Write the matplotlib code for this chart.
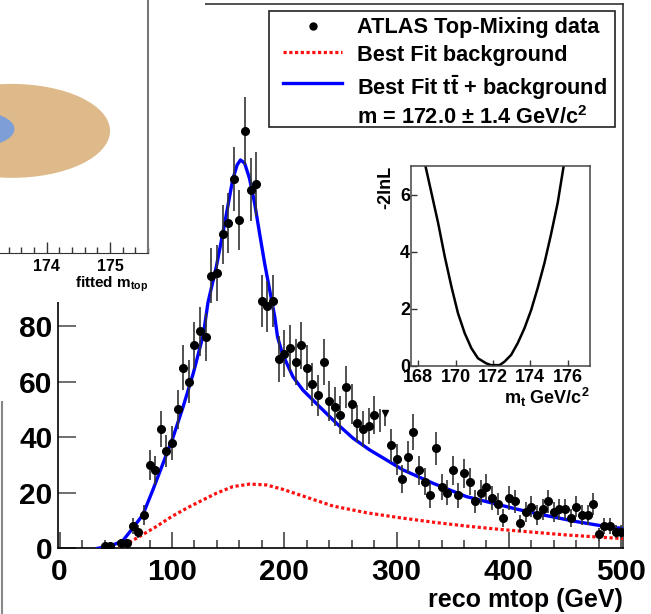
import matplotlib
matplotlib.use("Agg")
import matplotlib.pyplot as plt
import numpy as np
from matplotlib.patches import Rectangle, Ellipse
from matplotlib.lines import Line2D
from matplotlib.ticker import MultipleLocator, FixedLocator

plt.rcParams['font.family'] = ['Liberation Sans', 'DejaVu Sans']
plt.rcParams['font.weight'] = 'bold'
plt.rcParams['mathtext.fontset'] = 'custom'
plt.rcParams['mathtext.rm'] = 'Liberation Sans:bold'
plt.rcParams['mathtext.bf'] = 'Liberation Sans:bold'
plt.rcParams['mathtext.it'] = 'Liberation Sans:bold'

# ---- data ----
mass_bins = [40, 45, 55, 60, 65, 70, 75, 80, 85, 90, 95, 100, 105, 110, 115, 120, 125, 130,
             135, 140, 145, 150, 155, 160, 165, 170, 175, 180, 185, 190, 195, 200, 205, 210,
             215, 220, 225, 230, 235, 240, 245, 250, 255, 260, 265, 270, 275, 280,
             295, 300, 305, 310, 315, 320, 325, 330, 335, 340, 345, 350, 355, 360, 365, 370,
             375, 380, 385, 390, 395, 400, 405, 410, 415, 420, 425, 430, 435, 440, 445, 450,
             455, 460, 465, 470, 475, 480, 485, 490, 495, 500]
counts = [1, 1, 2, 2, 8, 6, 12, 30, 28, 43, 35, 38, 50, 65, 60, 73, 78, 76,
          98, 99, 113, 117, 133, 118, 150, 129, 131, 89, 87, 89, 68, 70, 72, 67,
          73, 65, 59, 55, 67, 53, 51, 48, 58, 52, 45, 43, 44, 48,
          37, 32, 25, 33, 42, 28, 24, 19, 36, 22, 20, 28, 19, 27, 24, 17,
          20, 22, 18, 16, 11, 18, 17, 9, 13, 15, 12, 14, 17, 13, 14, 14,
          11, 15, 12, 12, 16, 5, 8, 8, 6, 6]
# two bins drawn oddly in the original (bar only / triangle)
odd_bins = [285, 290]
odd_counts = [46, 48.5]

fit_x = [34, 45, 56, 65, 74, 83, 92, 101, 110, 119, 128, 132, 139.5, 147, 154, 158, 161,
         164.7, 169, 173.6, 178, 182.5, 187, 191.5, 194, 197.4, 200, 207.7, 216.6, 231.5,
         246.4, 261.2, 276, 290.9, 305.7, 332.4, 362.1, 391.8, 410, 430.4, 460.1, 483.8, 502]
fit_y = [0, 0.8, 2.6, 7.2, 12, 21, 30.5, 40, 51, 63, 77, 88.3, 101.3, 117, 132.5, 137.9, 139.7,
         138.5, 133.1, 124.1, 113.3, 102.5, 92.9, 83.3, 76, 71.3, 68.5, 61.7, 56.9, 50.9,
         45, 39.6, 35.4, 31.8, 28.2, 23.4, 18.6, 15.6, 13.8, 12, 9.6, 8, 7.1]

bkg_x = [53, 70, 86, 100, 115.8, 124.6, 139.5, 154.3, 169.2, 184, 198.8, 213.7, 243.4, 273.1,
         302.8, 332.4, 362.1, 391.8, 421.5, 451.2, 480.9, 502]
bkg_y = [0, 4, 7.8, 11.5, 15, 16.8, 19.8, 22.2, 23.1, 22.8, 21.2, 19.2, 15.2, 12.8,
         11, 9.4, 8, 6.8, 5.8, 4.8, 4, 3.5]

nll_mass = [168.39, 168.71, 169.07, 169.42, 169.78, 170.13, 170.49, 170.85, 171.2, 171.65,
            171.91, 172.36, 172.62, 172.98, 173.33, 173.69, 174.05, 174.4, 174.76, 175.11,
            175.47, 175.79]
nll_val = [7.0, 6.06, 5.0, 3.84, 2.78, 1.85, 1.15, 0.62, 0.27, 0.09,
           0.03, 0.03, 0.15, 0.39, 0.8, 1.32, 1.96, 2.73, 3.6, 4.6,
           5.71, 7.0]

# contour panel (partly visible): (centre m, centre y, width, height)
outer_contour = (173.45, 4.03, 3.1, 3.1)
inner_contour = (172.89, 4.09, 1.2, 1.16)
contour_ticks = [174, 175]

W, H = 651, 614
fig = plt.figure(figsize=(W / 100, H / 100), dpi=100)


def fx(px):
    return px / W


def fy(py):
    return 1 - py / H


# ---- main histogram ----
ax = fig.add_axes([fx(58.3), fy(548.3), (622.7 - 58.3) / W, (548.3 - 4) / H])
ax.errorbar(mass_bins, counts, yerr=np.sqrt(counts), fmt='o', color='black', ms=5.5,
            ecolor='#333333', elinewidth=1.2, capsize=0, zorder=4)
ax.errorbar(odd_bins[0], odd_counts[0], yerr=4, fmt='none', ecolor='#333333', elinewidth=1.2)
ax.errorbar(odd_bins[1], odd_counts[1] - 2, yerr=2.5, fmt='none', ecolor='#333333', elinewidth=1.2)
ax.plot(odd_bins[1], odd_counts[1], marker='v', color='black', ms=5, ls='none')
ax.plot(bkg_x, bkg_y, color='#ff1010', lw=2.3, ls=(0, (1.0, 0.8)), zorder=3)
ax.plot(fit_x, fit_y, color='#0000ff', lw=2.4, zorder=3)
ax.set_xlim(-1.2, 501.3)
ax.set_ylim(0, 195.8)
ax.set_xticks([0, 100, 200, 300, 400, 500])
ax.xaxis.set_minor_locator(MultipleLocator(20))
# upper y ticks are hidden under the overlapping contour panel
ax.set_yticks([0, 20, 40, 60, 80])
ax.tick_params(axis='x', which='major', direction='in', length=11.5, width=1.2,
               color='#444444', labelsize=21.5, pad=7)
ax.tick_params(axis='x', which='minor', direction='in', length=5.8, width=1.2, color='#444444')
ax.tick_params(axis='y', which='major', direction='in', length=13, width=1.2,
               color='#555555', labelsize=21.5, pad=4)
ax.tick_params(top=False, right=False)
for s in ax.spines.values():
    s.set_linewidth(1.2)
ax.spines['top'].set_color('#333333')
ax.spines['right'].set_color('#333333')
ax.text(1.0, -0.095, 'reco mtop (GeV)', transform=ax.transAxes, ha='right', va='center',
        fontsize=18, fontweight='bold')

# legend box
fig.patches.append(Rectangle((fx(269.3), fy(126.7)), (615.3 - 269.3) / W, (126.7 - 10.7) / H,
                             transform=fig.transFigure, facecolor='white', edgecolor='#222222',
                             lw=1.2, zorder=5))
fig.lines.append(Line2D([fx(313)], [fy(25.7)], marker='o', color='black', ms=5,
                        transform=fig.transFigure, zorder=6))
fig.lines.append(Line2D([fx(283), fx(342)], [fy(52)] * 2, color='#ff1010', lw=2.3,
                        ls=(0, (1.0, 0.8)), transform=fig.transFigure, zorder=6))
fig.lines.append(Line2D([fx(283), fx(342)], [fy(83)] * 2, color='#0000ff', lw=2.4,
                        transform=fig.transFigure, zorder=6))
legend_rows = ['ATLAS Top-Mixing data', 'Best Fit background',
               r'Best Fit t$\bar{\mathrm{t}}$ + background',
               r'm = 172.0 $\pm$ 1.4 GeV/c$^{2}$']
for row, base in zip(legend_rows, [33.3, 60.7, 95, 124]):
    fig.text(fx(356.7), fy(base), row, fontsize=15.7, fontweight='bold', va='baseline',
             ha='left', zorder=6)

# white cover left by the overlapping contour panel
fig.patches.append(Rectangle((0, fy(302)), 205 / W, 302 / H, transform=fig.transFigure,
                             facecolor='white', edgecolor='none', zorder=1))
fig.lines.append(Line2D([fx(1.5)] * 2, [0, fy(402)], color='#888888', lw=1.5,
                        transform=fig.transFigure, zorder=1))

# ---- contour panel (cut by image edge) ----
cax = fig.add_axes([fx(-48.2), fy(253), (148 + 48.2) / W, 303 / H])
cax.set_zorder(2)
cax.add_patch(Ellipse(outer_contour[:2], outer_contour[2], outer_contour[3],
                      facecolor='#deba8a', edgecolor='none'))
cax.add_patch(Ellipse(inner_contour[:2], inner_contour[2], inner_contour[3],
                      facecolor='#7d9ed7', edgecolor='none'))
cax.set_xlim(172.5, 175.6)
cax.set_ylim(0, 10)
cax.xaxis.set_major_locator(FixedLocator(contour_ticks))
cax.xaxis.set_minor_locator(MultipleLocator(0.2))
cax.set_yticks([])
cax.tick_params(axis='x', which='major', direction='in', length=8, width=1, color='#333333',
                labelsize=11.5, pad=4)
cax.tick_params(axis='x', which='minor', direction='in', length=4, width=1, color='#333333')
cax.spines['right'].set_color('#777777')
cax.spines['right'].set_linewidth(1.5)
cax.spines['bottom'].set_color('#333333')
fig.text(fx(148), fy(284), r'fitted m$_\mathrm{top}$', ha='right', va='center',
         fontsize=11, fontweight='bold', zorder=3)

# ---- likelihood inset ----
iax = fig.add_axes([fx(410.7), fy(366), 179.3 / W, 200 / H])
iax.set_zorder(3)
iax.plot(nll_mass, nll_val, color='black', lw=1.8)
iax.set_xlim(167.6, 177.2)
iax.set_ylim(0, 7)
iax.set_xticks([168, 170, 172, 174, 176])
iax.set_yticks([0, 2, 4, 6])
iax.tick_params(axis='both', direction='in', length=4.5, width=1, color='#333333',
                labelsize=13)
iax.tick_params(axis='x', pad=2)
iax.tick_params(axis='y', pad=0.5)
for s in iax.spines.values():
    s.set_color('#444444')
    s.set_linewidth(1.1)
iax.text(-0.14, 1.0, '-2lnL', transform=iax.transAxes, rotation=90, ha='center', va='top',
         fontsize=13, fontweight='bold')
iax.text(1.0, -0.155, r'm$_\mathrm{t}$ GeV/c$^{2}$', transform=iax.transAxes, ha='right',
         va='center', fontsize=13, fontweight='bold')

fig.savefig('out.png', dpi=100)
